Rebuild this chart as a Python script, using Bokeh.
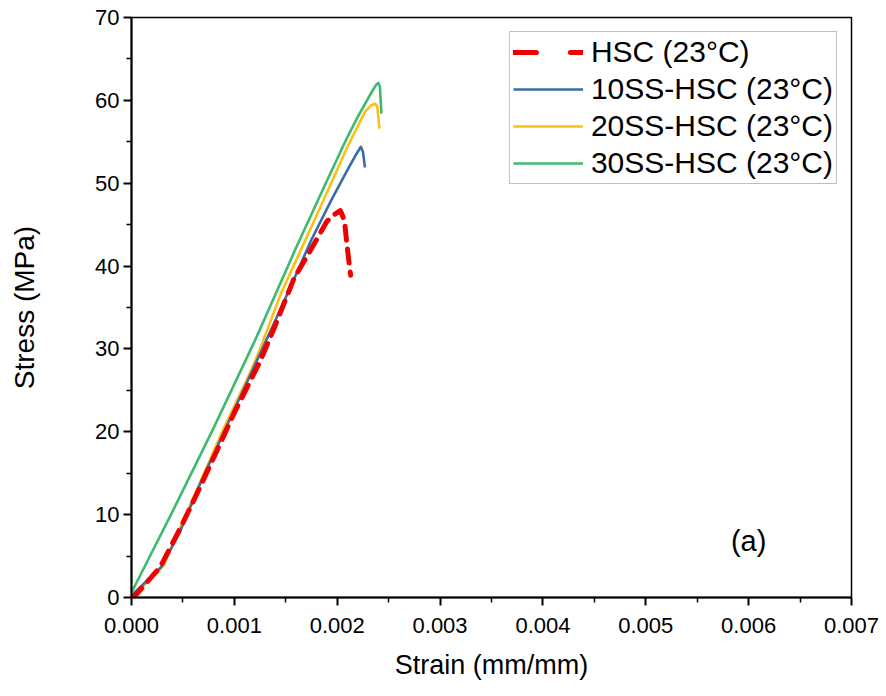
from bokeh.plotting import figure
from bokeh.models import Range1d, FixedTicker, NumeralTickFormatter, Legend, LegendItem
from bokeh.core.properties import value
from bokeh.embed import file_html
from bokeh.resources import INLINE

# ---- data ----
hsc_strain = [0.0, 0.00005, 0.00028, 0.00048, 0.00062, 0.00077, 0.0010, 0.00125, 0.00138, 0.00158,
              0.00174, 0.00190, 0.00197, 0.00203, 0.00207, 0.00210, 0.00213]
hsc_stress = [0.0, 0.4, 3.7, 8.5, 12.1, 16.1, 22.3, 28.5, 32.3, 38.5,
              41.9, 45.4, 46.2, 46.7, 45.5, 42.0, 38.9]

ss10_strain = [0.0, 0.00003, 0.00029, 0.00047, 0.00067, 0.0009, 0.00122, 0.0015, 0.00175, 0.00194,
               0.0021, 0.00218, 0.00223, 0.00225, 0.00227]
ss10_stress = [0.0, 0.6, 3.7, 7.9, 13.8, 20.0, 28.6, 36.2, 43.2, 47.9,
               51.6, 53.4, 54.4, 53.8, 51.9]

ss20_strain = [0.0, 0.00002, 0.00031, 0.00046, 0.00067, 0.0009, 0.00116, 0.00125, 0.00145, 0.00185,
               0.0021, 0.00227, 0.00233, 0.00237, 0.00239, 0.0024, 0.00241]
ss20_stress = [0.0, 0.2, 3.8, 8.1, 14.0, 20.5, 27.3, 30.0, 36.6, 47.5,
               54.4, 58.6, 59.4, 59.6, 59.2, 58.0, 56.6]

ss30_strain = [0.0, 0.0004, 0.0008, 0.0012, 0.0016, 0.0019, 0.0021, 0.0022, 0.00228,
               0.00234, 0.00238, 0.0024, 0.002415, 0.00242, 0.00243]
ss30_stress = [0.6, 10.4, 20.5, 31.0, 42.2, 50.3, 55.6, 58.0, 59.8,
               61.1, 61.9, 62.1, 61.7, 60.5, 58.4]

series_labels = ["HSC (23°C)", "10SS-HSC (23°C)", "20SS-HSC (23°C)", "30SS-HSC (23°C)"]
x_ticks = [0.000, 0.001, 0.002, 0.003, 0.004, 0.005, 0.006, 0.007]
y_ticks = [0, 10, 20, 30, 40, 50, 60, 70]
panel_label = "(a)"

FONT = "Liberation Sans"

p = figure(width=886, height=696, output_backend="svg", toolbar_location=None,
           x_range=Range1d(0, 0.007), y_range=Range1d(0, 70),
           min_border_left=131, min_border_right=35, min_border_top=17, min_border_bottom=99)
p.grid.visible = False
p.outline_line_color = "black"
p.outline_line_width = 1.5
p.background_fill_color = "white"
p.border_fill_color = "white"

x_minor = [t + 0.0005 for t in x_ticks[:-1]]
y_minor = [t + 5 for t in y_ticks[:-1]]
p.xaxis.ticker = FixedTicker(ticks=x_ticks, minor_ticks=x_minor)
p.yaxis.ticker = FixedTicker(ticks=y_ticks, minor_ticks=y_minor)
p.xaxis.formatter = NumeralTickFormatter(format="0.000")

for ax in (p.xaxis[0], p.yaxis[0]):
    ax.axis_line_width = 2
    ax.axis_line_color = "black"
    ax.major_tick_line_width = 2
    ax.minor_tick_line_width = 1.5
    ax.major_tick_in = 0
    ax.major_tick_out = 8
    ax.minor_tick_in = 0
    ax.minor_tick_out = 5
    ax.major_label_text_font = FONT
    ax.major_label_text_font_size = "22px"
    ax.major_label_text_color = "black"
    ax.axis_label_text_font = FONT
    ax.axis_label_text_font_size = "27px"
    ax.axis_label_text_font_style = "normal"
    ax.axis_label_text_color = "black"

p.yaxis.axis_label_text_font_size = "28px"
p.xaxis.major_label_standoff = 12
p.yaxis.major_label_standoff = 4
p.xaxis.axis_label = "Strain (mm/mm)"
p.yaxis.axis_label = "Stress (MPa)"
p.xaxis.axis_label_standoff = 14
p.yaxis.axis_label_standoff = 52

# curves
r30 = p.line(ss30_strain, ss30_stress, line_color="#3CBB6E", line_width=2.6, line_join="round")
r20 = p.line(ss20_strain, ss20_stress, line_color="#FDBF12", line_width=2.6, line_join="round")
r10 = p.line(ss10_strain, ss10_stress, line_color="#3A6DA8", line_width=2.6, line_join="round")
rh = p.line(hsc_strain, hsc_stress, line_color="#F00000", line_width=5, line_dash="14 9",
            line_join="round", line_cap="round")
# legend-only renderer for the HSC dash style as shown in the legend box
rh_leg = p.line([float("nan")], [float("nan")], line_color="#F00000", line_width=5,
                line_dash="23 34", line_cap="round")

p.text(x=[0.006], y=[6.8], text=[panel_label], text_font=value(FONT), text_font_size="29px",
       text_align="center", text_baseline="middle", text_color="black")

legend = Legend(items=[
    LegendItem(label=series_labels[0], renderers=[rh_leg]),
    LegendItem(label=series_labels[1], renderers=[r10]),
    LegendItem(label=series_labels[2], renderers=[r20]),
    LegendItem(label=series_labels[3], renderers=[r30]),
], location="top_right")
legend.margin = 14
legend.padding = 3
legend.spacing = 3
legend.glyph_width = 70
legend.glyph_height = 30
legend.label_height = 30
legend.label_standoff = 8
legend.label_text_font = FONT
legend.label_text_font_size = "30px"
legend.label_text_color = "black"
legend.border_line_color = "#808080"
legend.border_line_width = 1
legend.background_fill_alpha = 1
p.add_layout(legend)

open("out.html", "w").write(file_html(p, INLINE))
